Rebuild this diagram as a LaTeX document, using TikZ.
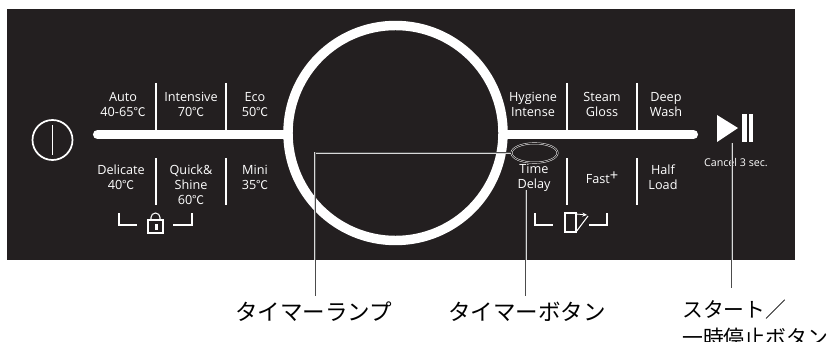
\documentclass[tikz,border=0pt]{standalone}
\usepackage{fontspec}
\usetikzlibrary{shapes.geometric,arrows.meta}
\setmainfont{Open Sans}
\newfontfamily\jpfont{Noto Sans CJK JP}
\newcommand{\dgc}{{\jpfont\fontsize{9}{9}\selectfont ℃}}
\definecolor{panel}{HTML}{231F20}
\tikzset{
  x=0.75pt,y=-0.75pt,
  lbl/.style={text=white,font=\fontsize{9.5}{11.3}\selectfont,align=center,inner sep=0pt,anchor=center},
  jp/.style={text=black,font=\jpfont\fontsize{16.9}{16.9}\selectfont,inner sep=0pt,anchor=west},
  jps/.style={text=black,font=\jpfont\fontsize{15.6}{15.6}\selectfont,inner sep=0pt,anchor=west},
  sep/.style={draw=white,line width=1.1pt},
  thin white/.style={draw=white,line width=0.8pt},
  leader/.style={draw=black!70,line width=0.75pt},
  halo/.style={draw=white!85!black,line width=1.5pt},
}
\begin{document}
\begin{tikzpicture}
\useasboundingbox (0,0) rectangle (828,342);
\fill[white] (0,0) rectangle (828,342);
\fill[panel] (7,9) rectangle (795,260);
% bar and ring
\draw[white,line width=6.8pt,line cap=round] (97.5,134.5) -- (693.5,134.5);
\node[draw=white,line width=7.1pt,fill=panel,circle,minimum size=161.25pt,inner sep=0pt] (ring) at (395.5,133) {};
% power
\node[draw=white,line width=1.3pt,circle,minimum size=30pt,inner sep=0pt] (power) at (52.5,140) {};
\draw[white,line width=1.1pt] (power.center) ++(0,-15) -- ++(0,30);
% dividers
\foreach \x in {156,226,567,637}{
  \draw[sep] (\x,83) -- (\x,131);
  \draw[sep] (\x,158) -- (\x,205);
}
% labels
\node[lbl] (a1) at (123,104.5) {Auto\\40-65\dgc};
\node[lbl] (a2) at (191,104.5) {Intensive\\70\dgc};
\node[lbl] (a3) at (255,104.5) {Eco\\50\dgc};
\node[lbl] (b1) at (121,177) {Delicate\\40\dgc};
\node[lbl] (b2) at (191,185) {Quick\&\\Shine\\60\dgc};
\node[lbl] (b3) at (255,177) {Mini\\35\dgc};
\node[lbl] (c1) at (533,104.5) {Hygiene\\Intense};
\node[lbl] (c2) at (602,104.5) {Steam\\Gloss};
\node[lbl] (c3) at (666,104.5) {Deep\\Wash};
\node[lbl] (d1) at (534,178) {Time\\Delay};
\node[lbl] (d2) at (602,178) {Fast{\fontsize{11}{11}\selectfont\raisebox{2.5pt}{+}}};
\node[lbl] (d3) at (663,177) {Half\\Load};
\node[lbl,font=\fontsize{8}{9}\selectfont] (cancel) at (736,163) {Cancel 3 sec.};
% lock brackets
\draw[thin white] (119,213) -- (119,225) -- (137,225);
\draw[thin white] (173,225) -- (192,225) -- (192,213);
\draw[thin white] (148,233) rectangle (163,220);
\draw[thin white] (151,220) -- (151,217.5) arc (180:360:4.5) -- (160,220);
\fill[white] (154.5,224) rectangle (157.5,230);
% door brackets
\draw[thin white] (535,213) -- (535,225) -- (553,225);
\draw[thin white] (589,225) -- (607,225) -- (607,213);
\draw[thin white] (565,213) rectangle (576,232);
\draw[thin white] (576,232) -- (588,216);
\draw[draw=white,line width=0.6pt,-{Stealth[length=3.5pt,width=3pt]}] (576,214) -- (587,215);
% play pause
\fill[white] (717,115) -- (738,128) -- (717,142) -- cycle;
\fill[white] (742.3,114) rectangle (746.7,142);
\fill[white] (748.5,114) rectangle (753.3,142);
% lamp
\node[draw=white,double=panel,double distance=0.7pt,line width=0.35pt,ellipse,minimum width=34.5pt,minimum height=14.5pt,inner sep=0pt] (lamp) at (534.5,153) {};
% texts
\node[jp] (t1) at (235,312) {タイマーランプ};
\node[jp] (t2) at (448,312) {タイマーボタン};
\node[jps] (t3) at (682,310) {スタート／};
\node[jps] (t4) at (682,338) {一時停止ボタン};
% leaders
\coordinate (e1) at (315,153);
\coordinate (e2) at (315,260);
\coordinate (e3) at (315,296);
\coordinate (f1) at (525.5,190);
\coordinate (f2) at (525.5,260);
\coordinate (f3) at (525.5,296);
\coordinate (g1) at (731.5,143);
\coordinate (g2) at (731.5,260);
\coordinate (g3) at (731.5,288);
\draw[halo] (lamp.west) -- (e1) -- (e2);
\draw[halo] (f1) -- (f2);
\draw[halo] (g1) -- (g2);
\draw[leader] (lamp.west) -- (e1) -- (e3);
\draw[leader] (f1) -- (f3);
\draw[leader] (g1) -- (g3);
\end{tikzpicture}
\end{document}
